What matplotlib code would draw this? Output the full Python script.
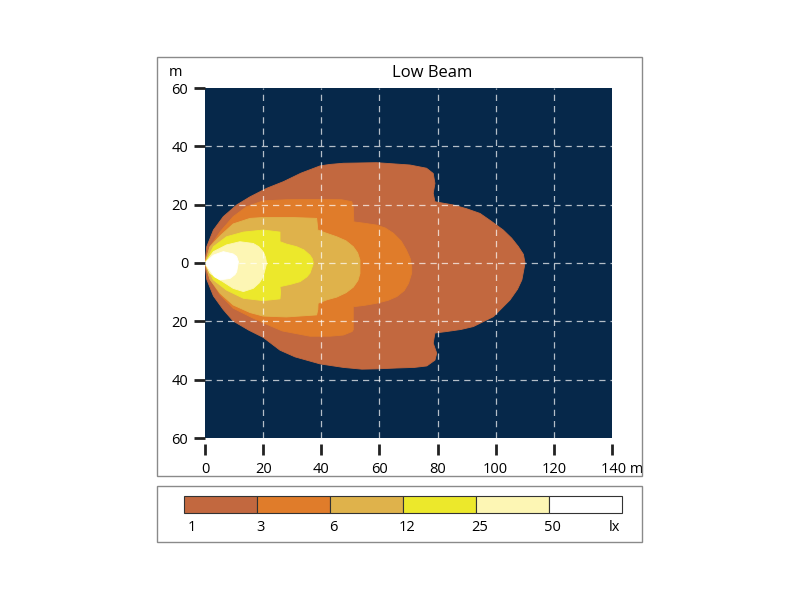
import matplotlib.pyplot as plt
from matplotlib.patches import Rectangle
from matplotlib.transforms import ScaledTranslation

plt.rcParams['font.family'] = ['Open Sans', 'DejaVu Sans']

# lux levels and their fill colours
levels = [1, 3, 6, 12, 25, 50]
level_colors = ['#c2683f', '#e07c2a', '#dfb24b', '#ece82b', '#fdf6b4', '#ffffff']

# iso-lux outlines (x forward in m, y sideways in m)
lx1_x = [0, 0.6, 2.9, 6.3, 9.7, 15, 20, 25.8, 31, 39.6, 47.6, 54, 59, 66, 72, 76.3, 79.1, 79.7, 78.5, 79.1,
         83.1, 88, 92.3, 99.2, 104.9, 107.5, 109, 110.1, 109.5, 107.8, 105.5, 102.6, 98.5, 94.6, 90, 85.4,
         79.1, 78.5, 79.1, 78.5, 76.2, 70.5, 59, 47.6, 43, 39.6, 33, 27, 21.2, 15.5, 10.9, 6.3, 2.9, 0.6, 0]
lx1_y = [0, -5.6, -11.3, -16, -19.9, -23, -25.5, -29.9, -32.2, -34.6, -35.8, -36.4, -36.3, -36, -35.8, -35.3,
         -33.3, -30.9, -27.5, -24, -23.5, -22.8, -21.8, -18.4, -12.7, -9, -5.8, 0, 3, 5.6, 8.5, 11.3, 14.3,
         17, 18.6, 19.9, 21, 23.9, 27.3, 30.7, 32.5, 33.6, 34.4, 34.2, 33.8, 33.3, 30.8, 27.9, 25.6, 22.7,
         19.9, 15.9, 11.3, 5.6, 0]

lx3_x = [0, 1.7, 5.2, 9.7, 15.5, 20, 26.6, 36.1, 43, 47.6, 50.6, 51, 51, 55, 59, 63, 66, 68.5, 70, 71.1,
         71.1, 70.6, 69.3, 67.5, 64.8, 62, 59, 55, 51.2, 51, 50.5, 47, 36.1, 28, 20, 14.3, 9.7, 5.2, 1.7, 0]
lx3_y = [0, -5.5, -10.9, -15.5, -18.4, -20.5, -23.3, -25.1, -25.1, -24.7, -23.5, -22.9, -15, -14.5, -13.8,
         -12.8, -11.5, -9.5, -7, -3.5, -1.2, 1.5, 4.4, 7.5, 10.2, 12, 13, 13.6, 14.1, 19, 21, 21.7, 21.8,
         21.7, 21.3, 19.3, 15.9, 10.7, 5.5, 0]

lx6_x = [0, 1.7, 5.2, 9.7, 15.5, 20, 28, 38.4, 38.8, 38.9, 42, 45.3, 48.5, 51, 52.6, 53.3, 53.3, 52.5, 51,
         48.5, 45.3, 41.5, 38.8, 38.6, 38.4, 30, 20, 15.5, 9.7, 5.2, 1.7, 0]
lx6_y = [0, -5.6, -10.4, -14.4, -17, -18.2, -18.5, -17.8, -16, -13.8, -12.6, -11.7, -10.2, -8.3, -6, -3.6,
         1, 3.5, 5.6, 7.6, 9, 10.3, 11.3, 13.5, 15.3, 15.6, 15.6, 15.3, 13.4, 9.3, 5.6, 0]

lx12_x = [0, 2.9, 7.4, 13.2, 20, 25.8, 26, 25.8, 29.5, 32.7, 35, 36.1, 37.3, 36.9, 36.1, 34, 31.5, 28,
          25.8, 25.8, 25.8, 20, 13.2, 7.4, 2.9, 0]
lx12_y = [0, -5.8, -9.3, -12.1, -12.9, -12.3, -10, -8.1, -7.3, -6.4, -4.8, -3.5, -0.1, 1.5, 2.7, 4.5, 5.6,
          6.5, 7.3, 9.5, 10.6, 11.3, 10.6, 9, 5.6, 0]

lx25_x = [0, 1.7, 5.2, 9.7, 13.2, 16.6, 18.7, 20, 21.2, 20.8, 20, 18.5, 16.6, 12, 7.4, 2.9, 0]
lx25_y = [0, -3.5, -5.8, -8.7, -9.8, -8.7, -6.8, -4.7, -0.1, 2, 3.9, 5.6, 6.7, 7.3, 6.2, 3.9, 0]

lx50_x = [0, 1.5, 3.2, 5.2, 8.6, 10.3, 10.9, 11.5, 10.9, 9.7, 6.3, 2.9, 0]
lx50_y = [0, -2.2, -4.7, -5.8, -5.3, -4, -3, 0.4, 2.2, 3.1, 3.9, 2.7, 0]

outlines = [(lx1_x, lx1_y), (lx3_x, lx3_y), (lx6_x, lx6_y),
            (lx12_x, lx12_y), (lx25_x, lx25_y), (lx50_x, lx50_y)]

x_ticks = [0, 20, 40, 60, 80, 100, 120, 140]
y_ticks = [-60, -40, -20, 0, 20, 40, 60]
y_labels = ['60', '40', '20', '0', '20', '40', '60']

fig = plt.figure(figsize=(8, 6), dpi=100)

# outer frames
fig.patches.append(Rectangle((157 / 800, 1 - 476 / 600), 485 / 800, 419 / 600, transform=fig.transFigure,
                             fill=False, edgecolor='#8a8a8a', lw=1))
fig.patches.append(Rectangle((157 / 800, 1 - 542 / 600), 485 / 800, 56 / 600, transform=fig.transFigure,
                             fill=False, edgecolor='#8a8a8a', lw=1))

ax = fig.add_axes([205 / 800, 1 - 438 / 600, 407 / 800, 350 / 600])
ax.set_facecolor('#06284a')
for (xs, ys), c in zip(outlines, level_colors):
    ax.fill(xs, ys, color=c, lw=0.6, ec=c, joinstyle='round', zorder=1)

ax.set_xlim(0, 140)
ax.set_ylim(-60, 60)
ax.set_xticks(x_ticks)
ax.set_xticklabels([str(v) for v in x_ticks[:-1]] + ['140 m'])
ax.set_yticks(y_ticks)
ax.set_yticklabels(y_labels)
for v in x_ticks[1:-1]:
    ax.axvline(v, color='white', lw=0.9, ls=(0, (5, 4)), alpha=0.7, zorder=2)
for v in y_ticks[1:-1]:
    ax.axhline(v, color='white', lw=0.9, ls=(0, (5, 4)), alpha=0.7, zorder=2)

for s in ['top', 'right', 'left', 'bottom']:
    ax.spines[s].set_visible(False)
ax.spines['bottom'].set_position(('outward', 4))
ax.tick_params(axis='both', direction='out', length=8, width=2, color='#222222', labelsize=10.5)
ax.tick_params(axis='x', pad=5)
ax.tick_params(axis='y', pad=4)
last = ax.get_xticklabels()[-1]
last.set_horizontalalignment('left')
last.set_transform(last.get_transform() + ScaledTranslation(-11 / 100, 0, fig.dpi_scale_trans))

fig.text(432 / 800, 1 - 73 / 600, 'Low Beam', ha='center', va='center', fontsize=12)
fig.text(175 / 800, 1 - 73 / 600, 'm', ha='center', va='center', fontsize=10.5)

# lux scale
axl = fig.add_axes([184 / 800, 1 - 513 / 600, 438 / 800, 17 / 600])
bars = axl.bar(range(len(levels)), [1] * len(levels), width=1, align='edge', color=level_colors,
               edgecolor='#333333', lw=0.8)
for b in bars:
    b.set_clip_on(False)
axl.set_xlim(0, len(levels))
axl.set_ylim(0, 1)
axl.axis('off')
for i, v in enumerate(levels):
    axl.text(i + 0.05, -0.85, str(v), ha='center' if i else 'left', va='center', fontsize=10.5)
axl.text(len(levels) - 0.02, -0.85, 'lx', ha='right', va='center', fontsize=10.5)

fig.savefig('out.png', dpi=100)
